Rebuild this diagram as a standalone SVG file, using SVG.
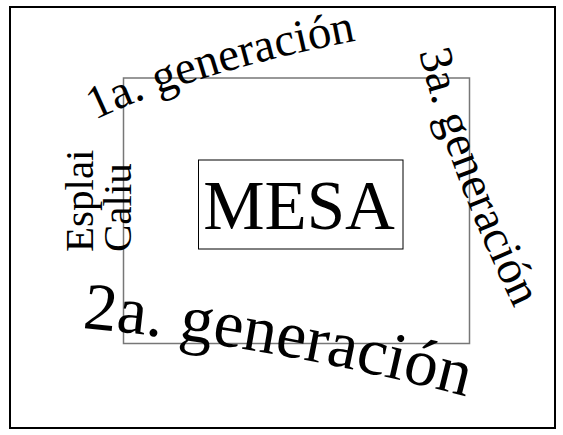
<svg xmlns="http://www.w3.org/2000/svg" width="563" height="435" viewBox="0 0 563 435">
<style>
text{font-family:"Liberation Serif","Times New Roman",serif;fill:#000}
.gen{font-size:47px}
</style>
<defs>
<path id="p1" d="M 95 120 Q 200 70 370 38"/>
<path id="p3" d="M 419 52 Q 450 180 525 330"/>
<path id="p2" d="M 82 328 Q 270 345 480 400"/>
</defs>
<rect x="10" y="7" width="545" height="421" fill="#fff" stroke="#000" stroke-width="2"/>
<g id="frame"><rect x="123.5" y="78" width="346" height="265.5" fill="none" stroke="#777" stroke-width="1.5"/></g>
<g id="mesa">
<rect x="198.5" y="160" width="204.5" height="89" fill="none" stroke="#000" stroke-width="1"/>
<text x="299" y="229" font-size="69" text-anchor="middle">MESA</text>
</g>
<g id="gen1"><text class="gen"><textPath href="#p1">1a. generación</textPath></text></g>
<g id="gen3"><text class="gen"><textPath href="#p3">3a. generación</textPath></text></g>
<g id="gen2"><text font-size="67"><textPath href="#p2">2a. generación</textPath></text></g>
<g id="esplai">
<text font-size="41" transform="translate(93 252) rotate(-90)">Esplai</text>
<text font-size="41" transform="translate(131 252) rotate(-90)">Caliu</text>
</g>
<g id="connectors"/>
</svg>
